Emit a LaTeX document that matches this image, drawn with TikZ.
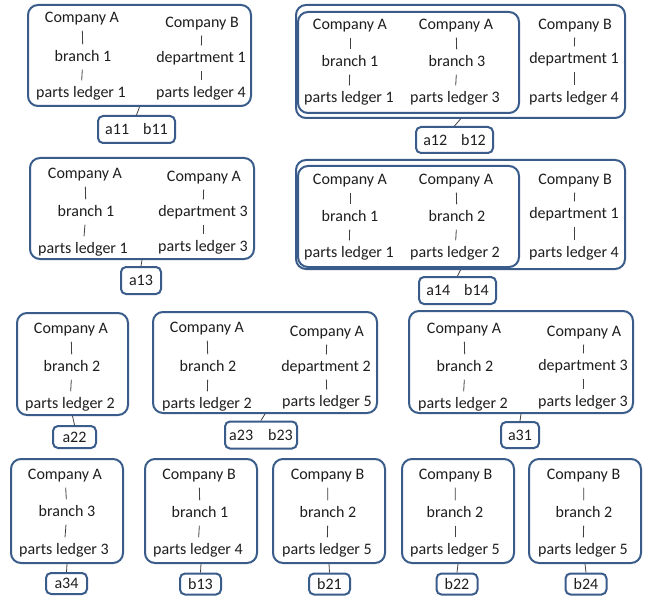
\documentclass[tikz,border=0pt]{standalone}
\usepackage{fontspec}
\setmainfont{Carlito}
\definecolor{boxblue}{RGB}{58,92,138}
\definecolor{txtgray}{RGB}{30,30,30}
\tikzset{
  txt/.style={inner sep=0pt, text height=13pt, text depth=4pt, text=txtgray,
    font=\fontsize{16}{19}\selectfont},
  tick/.style={draw=txtgray!85, line width=0.8pt, shorten <=4pt, shorten >=4pt},
  bigbox/.style={draw=boxblue, line width=2pt, rounded corners=10pt, inner sep=0pt},
  lblbox/.style={draw=boxblue, line width=2pt, rounded corners=5pt, inner sep=0pt,
    text=txtgray, font=\fontsize{16}{19}\selectfont},
  link/.style={draw=txtgray!85, line width=0.8pt}
}
\newcommand{\stackcol}[7]{%
  \node[txt] (#1a) at (#2) {#3};
  \node[txt] (#1b) at (#4) {#5};
  \node[txt] (#1c) at (#6) {#7};
  \draw[tick] (#1a) -- (#1b);
  \draw[tick] (#1b) -- (#1c);
}
\begin{document}
\begin{tikzpicture}[x=1pt,y=-1pt]
\useasboundingbox[fill=white] (0,0) rectangle (645,596);

% ---------- group 1
\node[bigbox, minimum width=223pt, minimum height=101pt] (g1) at (139.5,55.5) {};
\stackcol{g1l}{82,18}{Company A}{83,57}{branch 1}{81,93}{parts ledger 1}
\stackcol{g1r}{202,23}{Company B}{201,58}{department 1}{201,93}{parts ledger 4}
\node[lblbox, minimum width=77pt, minimum height=27pt] (l1) at (136.5,129.5) {a11\hspace{14pt}b11};
\draw[link] (g1.south) -- (l1.north);

% ---------- group 2
\node[bigbox, minimum width=329pt, minimum height=113pt] (g2) at (460.5,61.5) {};
\node[bigbox, minimum width=221pt, minimum height=101pt] (g2i) at (408.5,62.5) {};
\stackcol{g2l}{350,25}{Company A}{350,62}{branch 1}{349,98}{parts ledger 1}
\stackcol{g2m}{456,25}{Company A}{457,62}{branch 3}{455,98}{parts ledger 3}
\stackcol{g2r}{575,25}{Company B}{574,59}{department 1}{574,98}{parts ledger 4}
\node[lblbox, minimum width=77pt, minimum height=26pt] (l2) at (454.5,140) {a12\hspace{14pt}b12};
\draw[link] (g2.south) -- (l2.north);

% ---------- group 3
\node[bigbox, minimum width=224pt, minimum height=101pt] (g3) at (142,208.5) {};
\stackcol{g3l}{85,174}{Company A}{86,212}{branch 1}{83,249}{parts ledger 1}
\stackcol{g3r}{204,177}{Company A}{203,212}{department 3}{203,247}{parts ledger 3}
\node[lblbox, minimum width=40pt, minimum height=27pt] (l3) at (141,280.5) {a13};
\draw[link] (g3.south) -- (l3.north);

% ---------- group 4
\node[bigbox, minimum width=329pt, minimum height=109pt] (g4) at (460.5,214.5) {};
\node[bigbox, minimum width=221pt, minimum height=101pt] (g4i) at (408.5,216.5) {};
\stackcol{g4l}{350,180}{Company A}{350,217}{branch 1}{349,253}{parts ledger 1}
\stackcol{g4m}{456,180}{Company A}{457,217}{branch 2}{455,253}{parts ledger 2}
\stackcol{g4r}{575,180}{Company B}{574,214}{department 1}{574,253}{parts ledger 4}
\node[lblbox, minimum width=77pt, minimum height=27pt] (l4) at (457.5,290.5) {a14\hspace{14pt}b14};
\draw[link] (g4.south) -- (l4.north);

% ---------- group 5
\node[bigbox, minimum width=111pt, minimum height=102pt] (g5) at (72.5,364) {};
\stackcol{g5l}{71,329}{Company A}{72,367}{branch 2}{70,404}{parts ledger 2}
\node[lblbox, minimum width=43pt, minimum height=22pt] (l5) at (74.5,437) {a22};
\draw[link] (g5.south) -- (l5.north);

% ---------- group 6
\node[bigbox, minimum width=224pt, minimum height=101pt] (g6) at (265,362.5) {};
\stackcol{g6l}{207,328}{Company A}{208,367}{branch 2}{207,404}{parts ledger 2}
\stackcol{g6r}{327,332}{Company A}{326,367}{department 2}{327,402}{parts ledger 5}
\node[lblbox, minimum width=72pt, minimum height=27pt] (l6) at (261,435) {a23\hspace{15pt}b23};
\draw[link] (g6.south) -- (l6.north);

% ---------- group 7
\node[bigbox, minimum width=224pt, minimum height=102pt] (g7) at (521,362) {};
\stackcol{g7l}{464,329}{Company A}{465,367}{branch 2}{463,404}{parts ledger 2}
\stackcol{g7r}{584,332}{Company A}{583,366}{department 3}{583,402}{parts ledger 3}
\node[lblbox, minimum width=38pt, minimum height=26pt] (l7) at (520,435) {a31};
\draw[link] (g7.south) -- (l7.north);

% ---------- row 4
\node[bigbox, minimum width=112pt, minimum height=104pt] (h1) at (67,511) {};
\stackcol{h1l}{65,475}{Company A}{67,512}{branch 3}{64,550}{parts ledger 3}
\node[lblbox, minimum width=41pt, minimum height=21pt] (m1) at (66.5,583.5) {a34};
\draw[link] (h1.south) -- (m1.north);

\node[bigbox, minimum width=112pt, minimum height=104pt] (h2) at (201,511) {};
\stackcol{h2l}{199,475}{Company B}{200,513}{branch 1}{198,550}{parts ledger 4}
\node[lblbox, minimum width=41pt, minimum height=21pt] (m2) at (200.5,584) {b13};
\draw[link] (h2.south) -- (m2.north);

\node[bigbox, minimum width=112pt, minimum height=104pt] (h3) at (329,511) {};
\stackcol{h3l}{327.5,475}{Company B}{328,513}{branch 2}{327,550}{parts ledger 5}
\node[lblbox, minimum width=41pt, minimum height=21pt] (m3) at (329.5,584) {b21};
\draw[link] (h3.south) -- (m3.north);

\node[bigbox, minimum width=112pt, minimum height=104pt] (h4) at (458,511) {};
\stackcol{h4l}{455.5,475}{Company B}{455,513}{branch 2}{455,550}{parts ledger 5}
\node[lblbox, minimum width=41pt, minimum height=21pt] (m4) at (457,584) {b22};
\draw[link] (h4.south) -- (m4.north);

\node[bigbox, minimum width=112pt, minimum height=104pt] (h5) at (585,511) {};
\stackcol{h5l}{583.5,475}{Company B}{584,513}{branch 2}{583,550}{parts ledger 5}
\node[lblbox, minimum width=41pt, minimum height=21pt] (m5) at (586,584) {b24};
\draw[link] (h5.south) -- (m5.north);
\end{tikzpicture}
\end{document}
